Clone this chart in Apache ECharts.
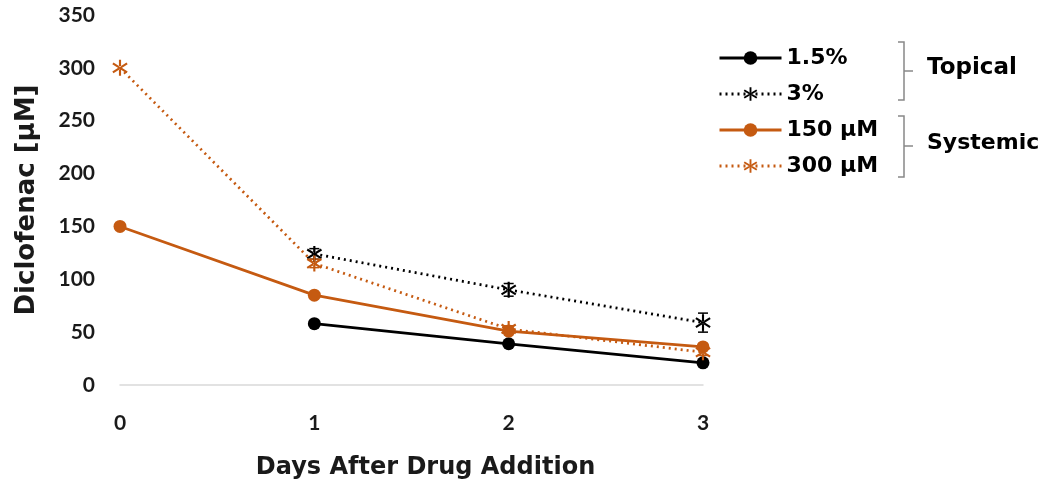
<!DOCTYPE html>
<html><head><meta charset="utf-8">
<script src="https://cdn.jsdelivr.net/npm/echarts@6/dist/echarts.min.js"></script>
<style>html,body{margin:0;padding:0;background:#fff}#c{width:1050px;height:485px}</style>
</head><body><div id="c"></div>
<script>
const days = [0, 1, 2, 3];
const yTicks = [0, 50, 100, 150, 200, 250, 300, 350];
const topical15 = [null, 58, 39, 21];
const topical3 = [null, 124, 90, 59];
const topical3Err = [null, 5, 6, 9];
const systemic150 = [150, 85, 51, 36];
const systemic300 = [300, 115, 53, 31];
const systemic300Err = [null, 4, 3, 3];
const seriesNames = ['1.5%', '3%', '150 µM', '300 µM'];

const FONT = 'Lato';
const WIDE = 'DejaVu Sans';
const BLACK = '#000000', ORANGE = '#C55A11';
const star = 'path://M-1.2,-9L1.2,-9L1.2,9L-1.2,9Z M-8.64,-3.98L7.36,6.02L8.64,3.98L-7.36,-6.02Z M-7.36,6.02L8.64,-3.98L7.36,-6.02L-8.64,3.98Z';

function pairs(vals){ return days.map((d,i)=> vals[i]==null ? null : [d, vals[i]]).filter(p=>p); }
function errData(vals, errs){ return days.map((d,i)=> errs[i]==null ? null : [d, vals[i]-errs[i], vals[i]+errs[i]]).filter(p=>p); }
function errSeries(vals, errs, color){
  return {
    type:'custom', silent:true, z:1,
    data: errData(vals, errs),
    renderItem: function(params, api){
      const x = api.coord([api.value(0), api.value(1)]);
      const y2 = api.coord([api.value(0), api.value(2)]);
      const w = 5;
      return {type:'group', children:[
        {type:'line', shape:{x1:x[0],y1:x[1],x2:y2[0],y2:y2[1]}, style:{stroke:color,lineWidth:1.5}},
        {type:'line', shape:{x1:x[0]-w,y1:x[1],x2:x[0]+w,y2:x[1]}, style:{stroke:color,lineWidth:1.5}},
        {type:'line', shape:{x1:y2[0]-w,y1:y2[1],x2:y2[0]+w,y2:y2[1]}, style:{stroke:color,lineWidth:1.5}}
      ]};
    }
  };
}

const chart = echarts.init(document.getElementById('c'));
chart.setOption({
  animation:false,
  backgroundColor:'#fff',
  grid:{left:120, right:347, top:15, bottom:100, containLabel:false, outerBoundsMode:'none'},
  xAxis:{
    type:'value', min:0, max:3, interval:1,
    name:'Days After Drug Addition', nameLocation:'middle', nameGap:71,
    nameTextStyle:{fontFamily:WIDE, fontWeight:'bold', fontSize:24, color:'#1a1a1a', padding:[0,0,0,28]},
    axisLine:{show:true, lineStyle:{color:'#d9d9d9', width:1.5}},
    axisTick:{show:false}, splitLine:{show:false},
    axisLabel:{margin:28, fontFamily:FONT, fontWeight:'bold', fontSize:21, color:'#1a1a1a'}
  },
  yAxis:{
    type:'value', min:0, max:350, interval:50,
    name:'Diclofenac [µM]', nameLocation:'middle', nameGap:80, nameRotate:90,
    nameTextStyle:{fontFamily:WIDE, fontWeight:'bold', fontSize:26, color:'#1a1a1a'},
    axisLine:{show:false}, axisTick:{show:false}, splitLine:{show:false},
    axisLabel:{margin:25, fontFamily:FONT, fontWeight:'bold', fontSize:21, color:'#1a1a1a',
      formatter: v => yTicks.indexOf(v) >= 0 ? String(v) : ''}
  },
  legend:{
    orient:'vertical', left:713, top:41, itemWidth:62, itemHeight:17, itemGap:12,
    data: seriesNames,
    lineStyle:{width:3},
    textStyle:{fontFamily:WIDE, fontWeight:'bold', fontSize:22, color:'#000', lineHeight:24}
  },
  series:[
    errSeries(topical3, topical3Err, BLACK),
    errSeries(systemic300, systemic300Err, ORANGE),
    {name:seriesNames[0], type:'line', data:pairs(topical15), symbol:'circle', symbolSize:13,
      lineStyle:{color:BLACK, width:2.75}, itemStyle:{color:BLACK}, z:3},
    {name:seriesNames[1], type:'line', data:pairs(topical3), symbol:star, symbolSize:[16,16], symbolKeepAspect:true,
      lineStyle:{color:BLACK, width:2.75, type:[2,4]}, itemStyle:{color:BLACK}, z:3},
    {name:seriesNames[2], type:'line', data:pairs(systemic150), symbol:'circle', symbolSize:13,
      lineStyle:{color:ORANGE, width:2.75}, itemStyle:{color:ORANGE}, z:3},
    {name:seriesNames[3], type:'line', data:pairs(systemic300), symbol:star, symbolSize:[16,16], symbolKeepAspect:true,
      lineStyle:{color:ORANGE, width:2.75, type:[2,4]}, itemStyle:{color:ORANGE}, z:3}
  ],
  graphic:[
    {type:'polyline', shape:{points:[[898,42],[904,42],[904,100],[898,100]]}, style:{stroke:'#888',lineWidth:1.5,fill:null}},
    {type:'line', shape:{x1:904,y1:71,x2:913,y2:71}, style:{stroke:'#888',lineWidth:1.5}},
    {type:'polyline', shape:{points:[[898,116],[904,116],[904,177],[898,177]]}, style:{stroke:'#888',lineWidth:1.5,fill:null}},
    {type:'line', shape:{x1:904,y1:146,x2:913,y2:146}, style:{stroke:'#888',lineWidth:1.5}},
    {type:'text', left:927, top:57, style:{text:'Topical', font:'bold 23px "DejaVu Sans"', fill:'#000'}},
    {type:'text', left:927, top:132, style:{text:'Systemic', font:'bold 22px "DejaVu Sans"', fill:'#000'}}
  ]
});
</script></body></html>
